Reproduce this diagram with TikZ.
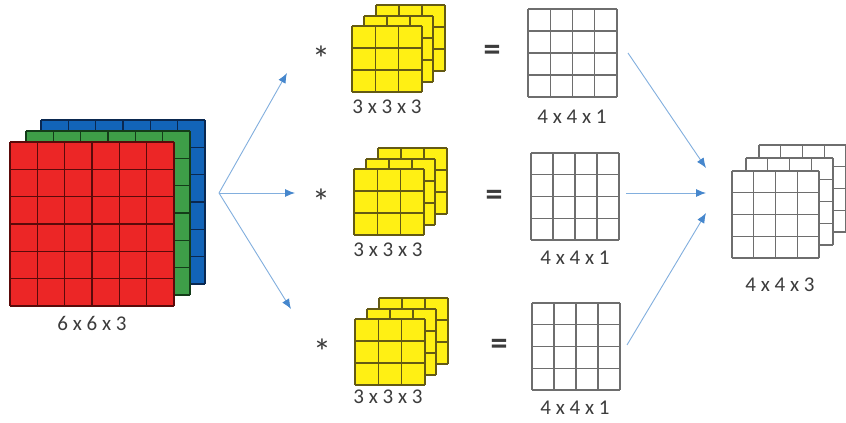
\documentclass[tikz,border=0pt]{standalone}
\usepackage{fontspec}
\setmainfont{Carlito}
\usetikzlibrary{arrows.meta}
\definecolor{cred}{RGB}{236,38,38}
\definecolor{cgreen}{RGB}{62,158,72}
\definecolor{cblue}{RGB}{18,100,184}
\definecolor{cyellow}{RGB}{255,240,20}
\definecolor{credl}{RGB}{90,10,10}
\definecolor{cgreenl}{RGB}{20,60,25}
\definecolor{cbluel}{RGB}{10,40,80}
\definecolor{cyellowl}{RGB}{100,90,20}
\definecolor{cgray}{RGB}{110,110,110}
\definecolor{ctext}{RGB}{60,60,60}
\definecolor{carrow}{RGB}{130,175,222}
\definecolor{ctip}{RGB}{70,135,205}
% \layer{x}{y}{w}{h}{n}{fill}{line colour}{line width}
\newcommand{\layer}[8]{%
  \fill[#6] (#1,#2) rectangle ++(#3,#4);
  \foreach \i in {0,...,#5} {
    \draw[#7,line width=#8] ({#1+\i*#3/#5},#2) -- ++(0,#4);
    \draw[#7,line width=#8] (#1,{#2+\i*#4/#5}) -- ++(#3,0);
  }
}
\tikzset{
  lbl/.style={font=\fontsize{21}{23}\selectfont, text=ctext, inner sep=0pt},
  opsym/.style={font=\fontsize{36}{38}\selectfont, text=ctext, inner sep=0pt},
  eqsym/.style={font=\fontsize{34}{36}\selectfont\bfseries, text=ctext, inner sep=0pt},
  flow/.style={draw=carrow, line width=0.9pt, -{Latex[length=10pt,width=8pt,color=ctip]}}
}
\begin{document}
\begin{tikzpicture}[x=1pt,y=-1pt]
\useasboundingbox (0,0) rectangle (846,423);
\clip (0,0) rectangle (846,423);
\fill[white] (0,0) rectangle (846,423);
% RGB input stack
\layer{41}{120}{164}{164}{6}{cblue}{cbluel}{1.5pt}
\layer{26}{131}{164}{164}{6}{cgreen}{cgreenl}{1.5pt}
\layer{10}{142}{164}{164}{6}{cred}{credl}{1.5pt}
\node[lbl] (inlbl) at (92,323) {6 x 6 x 3};
% filter stacks
\foreach \dx/\dy in {0/0,2/143,3/293} {
  \layer{376+\dx}{5+\dy}{69}{66}{3}{cyellow}{cyellowl}{1.1pt}
  \layer{364+\dx}{16+\dy}{69}{66}{3}{cyellow}{cyellowl}{1.1pt}
  \layer{352+\dx}{26+\dy}{70}{66}{3}{cyellow}{cyellowl}{1.1pt}
}
\node[lbl] (f1lbl) at (387,107) {3 x 3 x 3};
\node[lbl] (f2lbl) at (388,250) {3 x 3 x 3};
\node[lbl] (f3lbl) at (388,397) {3 x 3 x 3};
\node[opsym,anchor=base] (ast1) at (321,71) {*};
\node[opsym,anchor=base] (ast2) at (321,214) {*};
\node[opsym,anchor=base] (ast3) at (322,364) {*};
\node[eqsym] (eq1) at (492,53) {=};
\node[eqsym] (eq2) at (494,198) {=};
\node[eqsym] (eq3) at (499,347) {=};
% feature maps
\layer{528}{9}{89}{88}{4}{white}{cgray}{1.4pt}
\layer{531}{153}{88}{87}{4}{white}{cgray}{1.4pt}
\layer{532}{303}{88}{87}{4}{white}{cgray}{1.4pt}
\node[lbl] (m1lbl) at (572,117) {4 x 4 x 1};
\node[lbl] (m2lbl) at (575,258) {4 x 4 x 1};
\node[lbl] (m3lbl) at (575,408) {4 x 4 x 1};
% output stack
\layer{759}{145}{87}{87}{4}{white}{cgray}{1.4pt}
\layer{746}{158}{87}{87}{4}{white}{cgray}{1.4pt}
\layer{732}{171}{87}{87}{4}{white}{cgray}{1.4pt}
\node[lbl] (outlbl) at (780,285) {4 x 4 x 3};
% arrows
\coordinate (src) at (219,193);
\coordinate (t1) at (287,73);
\coordinate (t2) at (295,193);
\coordinate (t3) at (291,309);
\coordinate (o1s) at (628,53);
\coordinate (o1e) at (706,168);
\coordinate (o2s) at (626,193);
\coordinate (o2e) at (706,193);
\coordinate (o3s) at (627,345);
\coordinate (o3e) at (706,213);
\draw[flow] (src) -- (t1);
\draw[flow] (src) -- (t2);
\draw[flow] (src) -- (t3);
\draw[flow] (o1s) -- (o1e);
\draw[flow] (o2s) -- (o2e);
\draw[flow] (o3s) -- (o3e);
\end{tikzpicture}
\end{document}
